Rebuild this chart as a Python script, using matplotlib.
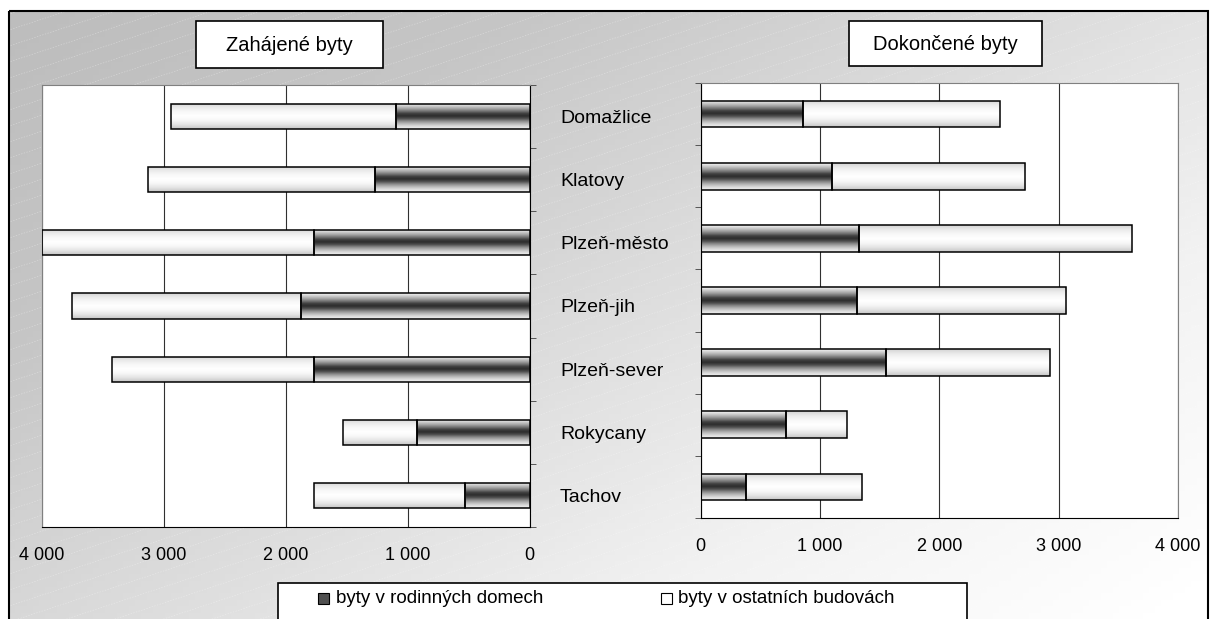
import numpy as np
import matplotlib
matplotlib.use("Agg")
from matplotlib import pyplot as plt
from matplotlib.patches import Rectangle
from matplotlib.colors import LinearSegmentedColormap

plt.rcParams['font.family'] = ['Liberation Sans', 'DejaVu Sans']

categories = ["Domažlice", "Klatovy", "Plzeň-město", "Plzeň-jih", "Plzeň-sever", "Rokycany", "Tachov"]
# zahájené byty
started_family = [1095, 1270, 1766, 1869, 1766, 923, 528]
started_other = [1846, 1859, 2234, 1879, 1655, 606, 1241]
# dokončené byty
finished_family = [859, 1101, 1330, 1313, 1554, 717, 383]
finished_other = [1648, 1618, 2285, 1752, 1373, 510, 966]
ticks = [0, 1000, 2000, 3000, 4000]
tick_labels = ["0", "1 000", "2 000", "3 000", "4 000"]
legend_labels = ["byty v rodinných domech", "byty v ostatních budovách"]

W, H = 1211, 619
dark_cmap = LinearSegmentedColormap.from_list(
  "dark", ["#f6f6f6", "#d0d0d0", "#a8a8a8", "#787878", "#404040", "#2c2c2c", "#505050", "#8c8c8c", "#b8b8b8", "#dcdcdc", "#eeeeee"])
light_cmap = LinearSegmentedColormap.from_list(
  "light", ["#d4d4d4", "#ebebeb", "#f8f8f8", "#ffffff", "#f7f7f7", "#e4e4e4", "#c6c6c6"])
grad = np.linspace(0, 1, 64).reshape(-1, 1)


def gradient_bars(ax, y, left, width, height, cmap):
  bars = ax.barh(y, width, left=left, height=height, facecolor="none",
                 edgecolor="black", linewidth=1.1, zorder=3)
  for bar in bars:
    x0, y0 = bar.get_x(), bar.get_y()
    x1, y1 = x0 + bar.get_width(), y0 + bar.get_height()
    im = ax.imshow(grad, cmap=cmap, extent=(x0, x1, y1, y0), origin="upper",
                   aspect="auto", interpolation="bilinear", zorder=2)
    im.set_clip_path(bar)
  return bars


def style_axes(ax, side):
  y = np.arange(len(categories))
  ax.set_ylim(len(categories) - 0.5, -0.5)
  ax.set_xticks(ticks)
  ax.set_xticklabels(tick_labels, fontsize=13)
  ax.tick_params(axis="x", length=0, pad=14.5)
  ax.xaxis.grid(True, color="#303030", linewidth=0.8)
  ax.set_axisbelow(True)
  ax.set_yticks(y)
  ax.set_yticks(np.arange(len(categories) + 1) - 0.5, minor=True)
  ax.tick_params(axis="y", which="major", length=0)
  ax.tick_params(axis="y", which="minor", length=4, direction="out", color="#404040")
  for s in ax.spines.values():
    s.set_color("#808080")
    s.set_linewidth(0.8)
  ax.spines["bottom"].set_color("black")
  ax.spines[side].set_color("black")


fig = plt.figure(figsize=(W / 100, H / 100), dpi=100)
fig.patch.set_facecolor("white")

# background frame with diagonal gradient
bg = fig.add_axes([0, 0, 1, 1], zorder=-10)
bg.axis("off")
xx, yy = np.meshgrid(np.linspace(0, 1, 200), np.linspace(0, 1, 100))
diag = np.clip((xx * 0.55 + yy * 0.45) * 1.05, 0, 1)
bg_cmap = LinearSegmentedColormap.from_list("bg", ["#bdbdbd", "#c6c6c6", "#dcdcdc", "#f2f2f2", "#ffffff"])
frame = Rectangle((8.5, 11), 1199.5, 640, facecolor="none", edgecolor="black", linewidth=1.5, zorder=2)
bg.add_patch(frame)
bg_im = bg.imshow(diag, cmap=bg_cmap, extent=(8.5, 1208, 651, 11), aspect="auto", zorder=1)
bg_im.set_clip_path(frame)
for k in range(-60, 60):
  x = np.array([0, W])
  bg.plot(x, 11 + k * 16 - x * 0.33 + 600 * 0.33, color="white", linewidth=0.5,
          linestyle=(0, (2, 2)), alpha=0.35, zorder=1.5, clip_path=frame)
bg.set_xlim(0, W)
bg.set_ylim(H, 0)

# title boxes
for (x, y, w, h, label) in [(196, 21, 187, 47, "Zahájené byty"), (849, 21, 193, 45, "Dokončené byty")]:
  bg.add_patch(Rectangle((x, y), w, h, facecolor="white", edgecolor="black", linewidth=1.2, zorder=3))
  bg.text(x + w / 2, y + h / 2 + 1, label, ha="center", va="center", fontsize=14.5, zorder=4)

# legend box
bg.add_patch(Rectangle((278, 583), 689, 60, facecolor="white", edgecolor="black", linewidth=1.2, zorder=3))
bg.add_patch(Rectangle((318, 593), 11, 11, facecolor="#505050", edgecolor="black", linewidth=0.8, zorder=4))
bg.add_patch(Rectangle((661, 593), 11, 11, facecolor="white", edgecolor="black", linewidth=0.8, zorder=4))
bg.text(336, 598.5, legend_labels[0], ha="left", va="center", fontsize=13.5, zorder=4)
bg.text(678, 598.5, legend_labels[1], ha="left", va="center", fontsize=13.5, zorder=4)

y = np.arange(len(categories))
fam_s = np.array(started_family)
oth_s = np.array(started_other)
fam_f = np.array(finished_family)
oth_f = np.array(finished_other)

# left panel
axl = fig.add_axes([41.5 / W, (H - 527) / H, 488 / W, 442 / H])
gradient_bars(axl, y, 0, fam_s, 0.4, dark_cmap)
gradient_bars(axl, y, fam_s, oth_s, 0.4, light_cmap)
style_axes(axl, "right")
axl.set_xlim(4000, 0)
axl.yaxis.tick_right()
axl.set_yticklabels(categories, fontsize=14)
axl.tick_params(axis="y", which="major", pad=22)

# right panel
axr = fig.add_axes([700.7 / W, (H - 518) / H, 477.3 / W, 435 / H])
gradient_bars(axr, y, 0, fam_f, 0.43, dark_cmap)
gradient_bars(axr, y, fam_f, oth_f, 0.43, light_cmap)
style_axes(axr, "left")
axr.set_xlim(0, 4000)
axr.set_yticklabels([])

for ax in (axl, axr):
  ax.set_ylim(len(categories) - 0.5, -0.5)

fig.savefig("out.png", dpi=100)
